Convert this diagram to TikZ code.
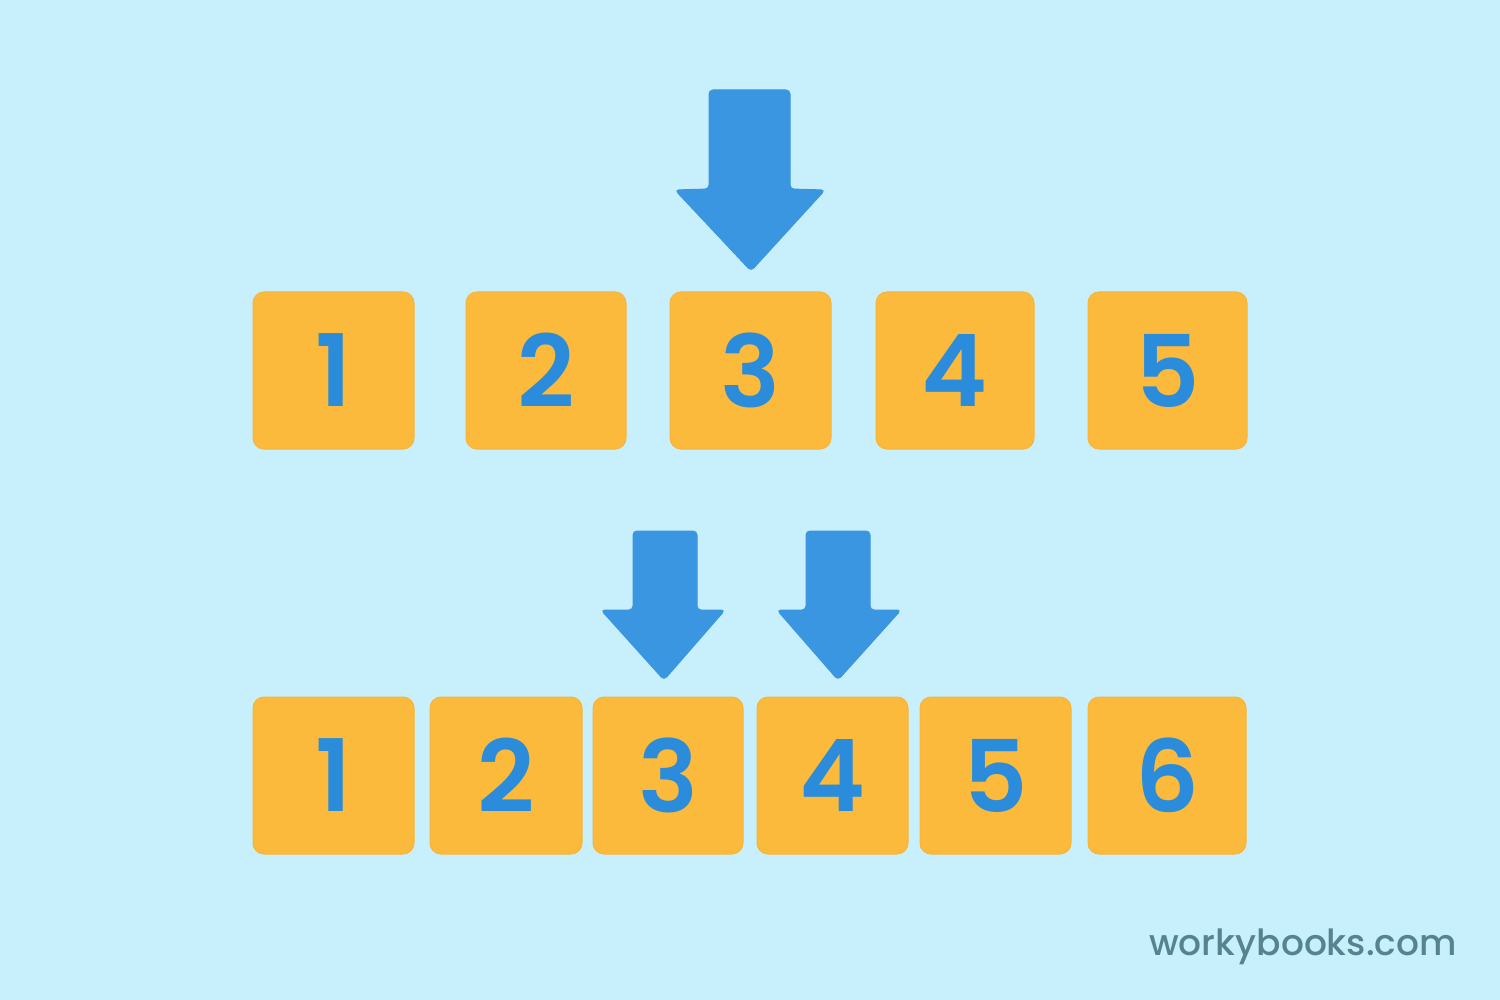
\documentclass[tikz,border=0pt]{standalone}
\usepackage{fontspec}
\setmainfont{Poppins}
\newfontfamily\digitfont{Poppins SemiBold}
\newfontfamily\wbfont{Poppins Medium}
\definecolor{bg}{HTML}{C7F0FC}
\definecolor{boxfill}{HTML}{FBBA3C}
\definecolor{boxedge}{HTML}{F7B43A}
\definecolor{digit}{HTML}{2A8CDA}
\definecolor{arrowblue}{HTML}{3A96E0}
\definecolor{mark}{HTML}{55838F}
\begin{document}
\begin{tikzpicture}[x=1pt,y=-1pt,
  numbox/.style={draw=boxedge, line width=1pt, fill=boxfill, rounded corners=11pt,
    minimum height=157pt, inner sep=0pt, text=digit,
    font=\digitfont\fontsize{100}{100}\selectfont},
  arrowshape/.style={fill=arrowblue, draw=arrowblue, line width=1pt, rounded corners=4pt}]
\fill[bg] (0,0) rectangle (1500,1000);
\useasboundingbox (0,0) rectangle (1500,1000);
% top row
\node[numbox, minimum width=161pt] (t1) at (333.5,370.5) {1};
\node[numbox, minimum width=160pt] (t2) at (546,370.5) {2};
\node[numbox, minimum width=161pt] (t3) at (750.5,370.5) {3};
\node[numbox, minimum width=158pt] (t4) at (955,370.5) {4};
\node[numbox, minimum width=159pt] (t5) at (1167.5,370.5) {5};
% bottom row
\node[numbox, minimum width=161pt] (b1) at (333.5,775.5) {1};
\node[numbox, minimum width=152pt] (b2) at (506,775.5) {2};
\node[numbox, minimum width=150pt] (b3) at (668,775.5) {3};
\node[numbox, minimum width=151pt] (b4) at (832.5,775.5) {4};
\node[numbox, minimum width=151pt] (b5) at (995.5,775.5) {5};
\node[numbox, minimum width=158pt] (b6) at (1167,775.5) {6};
% top arrow
\draw[arrowshape] (709,90) -- (790,90) -- (790,189) -- (825,190)
  -- (751,271) -- (675,190) -- (709,189) -- cycle;
% bottom arrows
\draw[arrowshape] (633,531) -- (697,531) -- (697,610) -- (725,610)
  -- (664,680) -- (601,610) -- (633,610) -- cycle;
\draw[arrowshape] (806,531) -- (870,531) -- (870,610) -- (901,610)
  -- (838,680) -- (777,610) -- (806,610) -- cycle;
% watermark
\node[anchor=base east, inner sep=0pt, text=mark,
  font=\wbfont\fontsize{36}{36}\selectfont] (wm) at (1457,955) {workybooks.com};
\end{tikzpicture}
\end{document}
